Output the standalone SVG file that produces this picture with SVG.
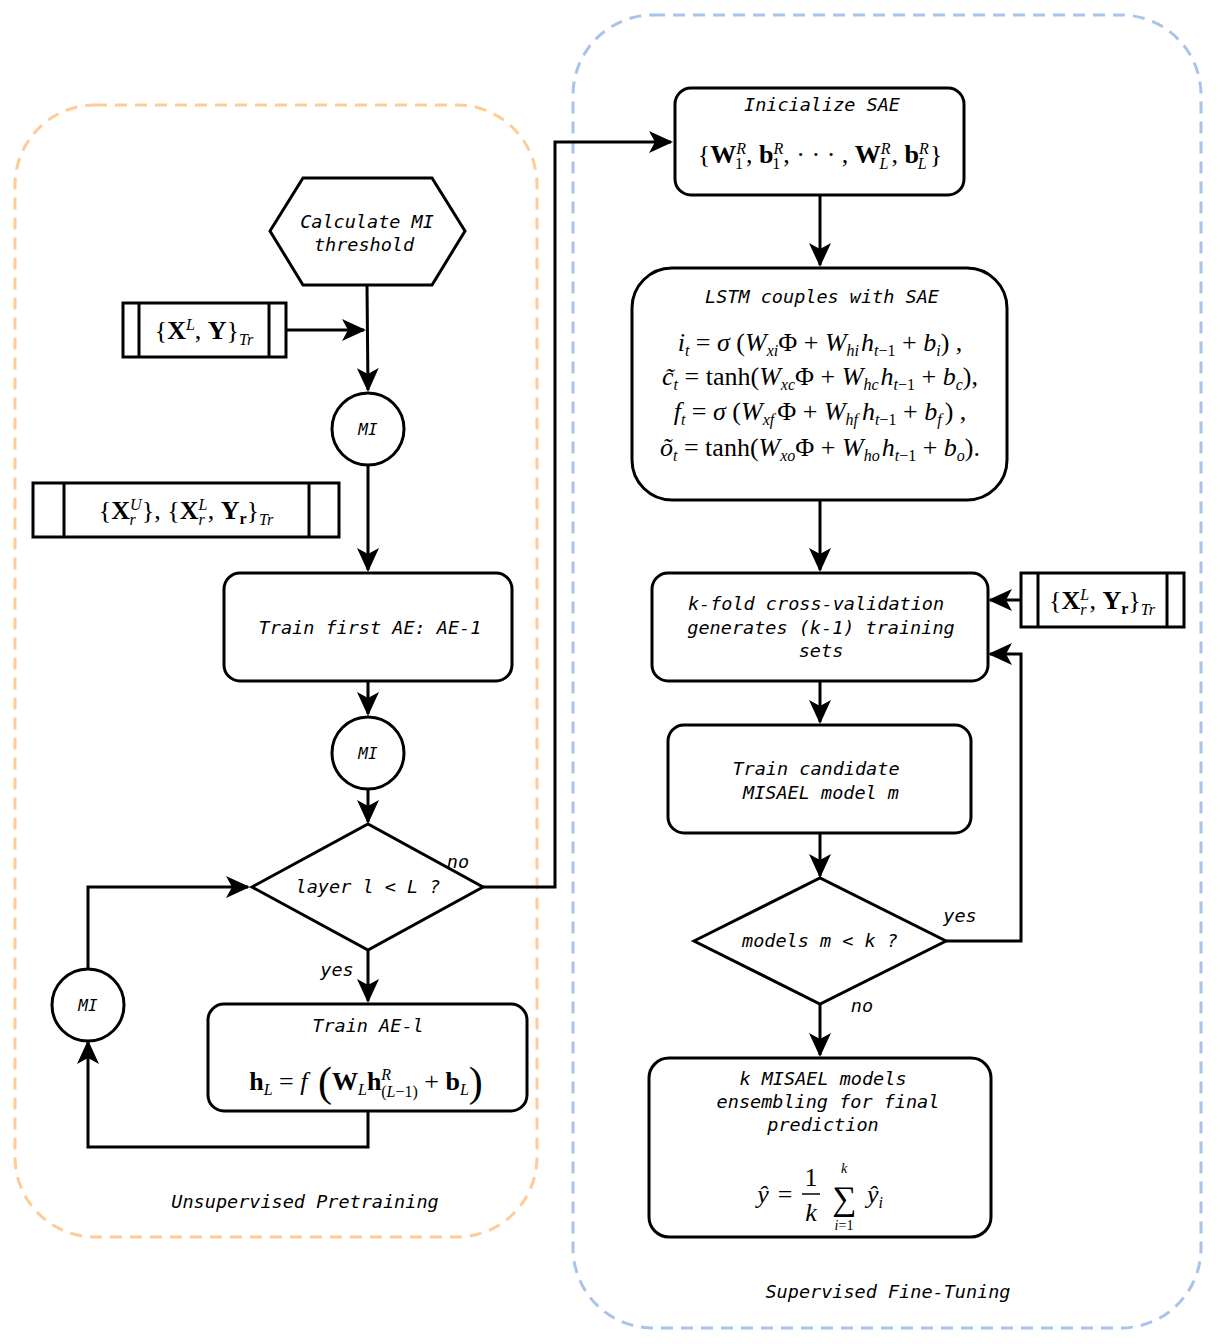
<svg xmlns="http://www.w3.org/2000/svg" width="1217" height="1344" viewBox="0 0 1217 1344">
<style>
.n{fill:#fff;stroke:#000;stroke-width:3}
.c{fill:none;stroke:#000;stroke-width:3}
.t{font-family:"DejaVu Sans Mono",monospace;font-style:italic;font-size:18.5px;text-anchor:middle}
.m{font-family:"Liberation Serif",serif;font-size:26px;text-anchor:middle}
.i{font-style:italic}
.b{font-weight:bold}
.s{font-size:16px}
</style>
<defs>
<marker id="h" viewBox="0 0 24 22" refX="22" refY="11" markerWidth="24" markerHeight="22" orient="auto" markerUnits="userSpaceOnUse"><path d="M0,0 L24,11 L0,22 L6,11 z"/></marker></defs>
<g id="groups">
<rect x="15" y="105" width="522" height="1132" rx="80" fill="none" stroke="#ffcc99" stroke-width="3" stroke-dasharray="12,8"/>
<rect x="573" y="15" width="628" height="1313" rx="80" fill="none" stroke="#a9c4eb" stroke-width="3" stroke-dasharray="12,8"/>
<text class="t" x="305" y="1208">Unsupervised Pretraining</text>
<text class="t" x="888" y="1298">Supervised  Fine-Tuning</text>
</g>
<g id="connectors">
<path class="c" d="M286,330 H364" marker-end="url(#h)"/>
<path class="c" d="M367,285 L368,390" marker-end="url(#h)"/>
<path class="c" d="M368,465 V570" marker-end="url(#h)"/>
<path class="c" d="M368,681 V714" marker-end="url(#h)"/>
<path class="c" d="M368,789 V822" marker-end="url(#h)"/>
<path class="c" d="M483,887 H555 V142 H671" marker-end="url(#h)"/>
<path class="c" d="M368,950 V1001" marker-end="url(#h)"/>
<path class="c" d="M368,1111 V1147 H88 V1042" marker-end="url(#h)"/>
<path class="c" d="M88,969 V887 H248" marker-end="url(#h)"/>
<path class="c" d="M820,195 V265" marker-end="url(#h)"/>
<path class="c" d="M820,500 V570" marker-end="url(#h)"/>
<path class="c" d="M1021,600 H990" marker-end="url(#h)"/>
<path class="c" d="M820,681 V722" marker-end="url(#h)"/>
<path class="c" d="M820,833 V876" marker-end="url(#h)"/>
<path class="c" d="M946,941 H1021 V654 H990" marker-end="url(#h)"/>
<path class="c" d="M820,1004 V1055" marker-end="url(#h)"/>
<text class="t" x="458" y="868">no</text>
<text class="t" x="337" y="976">yes</text>
<text class="t" x="960" y="922">yes</text>
<text class="t" x="862" y="1012">no</text>
</g>
<g id="hex"><polygon class="n" points="270,231 303,178 432,178 465,231 432,285 303,285"/>
<text class="t" x="367" y="228">Calculate  MI</text><text class="t" x="364" y="251">threshold</text></g>
<g id="data1"><rect class="n" x="123" y="303" width="163" height="54"/><path class="c" d="M139,303V357M269,303V357"/>
<text class="m" x="204" y="339">{<tspan class="b">X</tspan><tspan class="i s" dy="-9">L</tspan><tspan dy="9">, </tspan><tspan class="b">Y</tspan>}<tspan class="i s" dy="6">Tr</tspan></text></g>
<g id="mi1"><circle class="n" cx="368" cy="429" r="36"/><text class="t" x="368" y="435" style="font-size:16px">MI</text></g>
<g id="data2"><rect class="n" x="33" y="483" width="306" height="54"/><path class="c" d="M64,483V537M309,483V537"/>
<text class="m" x="186" y="519">{<tspan class="b">X</tspan><tspan class="i s" dy="-9">U</tspan><tspan class="i s" dx="-12" dy="15">r</tspan><tspan dx="6" dy="-6">}, {</tspan><tspan class="b">X</tspan><tspan class="i s" dy="-9">L</tspan><tspan class="i s" dx="-9" dy="15">r</tspan><tspan dx="3" dy="-6">, </tspan><tspan class="b">Y</tspan><tspan class="b s" dy="5">r</tspan><tspan dy="-5">}</tspan><tspan class="i s" dy="6">Tr</tspan></text></g>
<g id="ae1"><rect class="n" x="224" y="573" width="288" height="108" rx="16"/><text class="t" x="370" y="634">Train first AE: AE-1</text></g>
<g id="mi2"><circle class="n" cx="368" cy="753" r="36"/><text class="t" x="368" y="759" style="font-size:16px">MI</text></g>
<g id="dec1"><polygon class="n" points="252,887 368,824 483,887 368,950"/><text class="t" x="368" y="893">layer l &lt; L ?</text></g>
<g id="mi3"><circle class="n" cx="88" cy="1005" r="36"/><text class="t" x="88" y="1011" style="font-size:16px">MI</text></g>
<g id="ael"><rect class="n" x="208" y="1004" width="319" height="107" rx="16"/><text class="t" x="368" y="1032">Train AE-l</text>
<text class="m" x="366" y="1090"><tspan class="b">h</tspan><tspan class="i s" dy="5">L</tspan><tspan dy="-5"> = </tspan><tspan class="i">f</tspan><tspan style="font-size:42px" dy="6"> (</tspan><tspan class="b" dy="-6">W</tspan><tspan class="i s" dy="5">L</tspan><tspan class="b" dy="-5">h</tspan><tspan class="i s" dy="-10">R</tspan><tspan class="s" dx="-10" dy="17">(</tspan><tspan class="i s">L</tspan><tspan class="s">−1)</tspan><tspan dy="-7"> + </tspan><tspan class="b">b</tspan><tspan class="i s" dy="5">L</tspan><tspan style="font-size:42px" dy="1">)</tspan></text></g>
<g id="init"><rect class="n" x="675" y="88" width="289" height="107" rx="16"/><text class="t" x="822" y="111">Inicialize SAE</text>
<text class="m" x="820" y="163">{<tspan class="b">W</tspan><tspan class="i s" dy="-9">R</tspan><tspan class="s" dx="-11" dy="15">1</tspan><tspan dx="3" dy="-6">, </tspan><tspan class="b">b</tspan><tspan class="i s" dy="-9">R</tspan><tspan class="s" dx="-11" dy="15">1</tspan><tspan dx="3" dy="-6">, · · · , </tspan><tspan class="b">W</tspan><tspan class="i s" dy="-9">R</tspan><tspan class="i s" dx="-11" dy="15">L</tspan><tspan dx="3" dy="-6">, </tspan><tspan class="b">b</tspan><tspan class="i s" dy="-9">R</tspan><tspan class="i s" dx="-11" dy="15">L</tspan><tspan dx="3" dy="-6">}</tspan></text></g>
<g id="lstm"><rect class="n" x="632" y="268" width="375" height="232" rx="40"/><text class="t" x="822" y="303">LSTM couples with SAE</text>
<text class="m" x="820" y="351"><tspan class="i">i</tspan><tspan class="i s" dy="5">t</tspan><tspan dy="-5"> = </tspan><tspan class="i">σ</tspan> (<tspan class="i">W</tspan><tspan class="i s" dy="5">xi</tspan><tspan dy="-5">Φ + </tspan><tspan class="i">W</tspan><tspan class="i s" dy="5">hi</tspan><tspan class="i" dx="2" dy="-5">h</tspan><tspan class="i s" dy="5">t</tspan><tspan class="s">−1</tspan><tspan dy="-5"> + </tspan><tspan class="i">b</tspan><tspan class="i s" dy="5">i</tspan><tspan dy="-5">) ,</tspan></text>
<text class="m" x="820" y="385"><tspan class="i">c̃</tspan><tspan class="i s" dy="5">t</tspan><tspan dy="-5"> = tanh(</tspan><tspan class="i">W</tspan><tspan class="i s" dy="5">xc</tspan><tspan dy="-5">Φ + </tspan><tspan class="i">W</tspan><tspan class="i s" dy="5">hc</tspan><tspan class="i" dx="2" dy="-5">h</tspan><tspan class="i s" dy="5">t</tspan><tspan class="s">−1</tspan><tspan dy="-5"> + </tspan><tspan class="i">b</tspan><tspan class="i s" dy="5">c</tspan><tspan dy="-5">),</tspan></text>
<text class="m" x="820" y="420"><tspan class="i">f</tspan><tspan class="i s" dy="5">t</tspan><tspan dy="-5"> = </tspan><tspan class="i">σ</tspan> (<tspan class="i">W</tspan><tspan class="i s" dy="5">xf</tspan><tspan dx="3" dy="-5">Φ + </tspan><tspan class="i">W</tspan><tspan class="i s" dy="5">hf</tspan><tspan class="i" dx="4" dy="-5">h</tspan><tspan class="i s" dy="5">t</tspan><tspan class="s">−1</tspan><tspan dy="-5"> + </tspan><tspan class="i">b</tspan><tspan class="i s" dy="5">f</tspan><tspan dx="3" dy="-5">) ,</tspan></text>
<text class="m" x="820" y="456"><tspan class="i">õ</tspan><tspan class="i s" dy="5">t</tspan><tspan dy="-5"> = tanh(</tspan><tspan class="i">W</tspan><tspan class="i s" dy="5">xo</tspan><tspan dy="-5">Φ + </tspan><tspan class="i">W</tspan><tspan class="i s" dy="5">ho</tspan><tspan class="i" dx="2" dy="-5">h</tspan><tspan class="i s" dy="5">t</tspan><tspan class="s">−1</tspan><tspan dy="-5"> + </tspan><tspan class="i">b</tspan><tspan class="i s" dy="5">o</tspan><tspan dy="-5">).</tspan></text></g>
<g id="kfold"><rect class="n" x="652" y="573" width="336" height="108" rx="16"/><text class="t" x="816" y="610">k-fold cross-validation</text><text class="t" x="821" y="634">generates (k-1) training</text><text class="t" x="821" y="657">sets</text></g>
<g id="data3"><rect class="n" x="1021" y="573" width="163" height="54"/><path class="c" d="M1038,573V627M1167,573V627"/>
<text class="m" x="1102" y="609">{<tspan class="b">X</tspan><tspan class="i s" dy="-9">L</tspan><tspan class="i s" dx="-9" dy="15">r</tspan><tspan dx="3" dy="-6">, </tspan><tspan class="b">Y</tspan><tspan class="b s" dy="5">r</tspan><tspan dy="-5">}</tspan><tspan class="i s" dy="6">Tr</tspan></text></g>
<g id="cand"><rect class="n" x="668" y="725" width="303" height="108" rx="16"/><text class="t" x="816" y="775">Train candidate</text><text class="t" x="821" y="799">MISAEL model m</text></g>
<g id="dec2"><polygon class="n" points="694,941 820,878 946,941 820,1004"/><text class="t" x="820" y="947">models m &lt; k ?</text></g>
<g id="ens"><rect class="n" x="649" y="1058" width="342" height="179" rx="20"/><text class="t" x="823" y="1085">k MISAEL models</text><text class="t" x="828" y="1108">ensembling for final</text><text class="t" x="823" y="1131">prediction</text>
<text class="m i" x="763" y="1203">ŷ</text><text class="m" x="785" y="1203">=</text>
<text class="m" x="811" y="1186">1</text><line x1="802" y1="1194" x2="820" y2="1194" stroke="#000" stroke-width="1.5"/><text class="m i" x="811" y="1221">k</text>
<text class="m" x="844" y="1210" style="font-size:34px">∑</text><text class="m i" x="844" y="1173" style="font-size:14px">k</text><text class="m" x="844" y="1230" style="font-size:14px"><tspan class="i">i</tspan>=1</text>
<text class="m i" x="875" y="1203">ŷ<tspan class="s" dy="5">i</tspan></text></g>
</svg>
